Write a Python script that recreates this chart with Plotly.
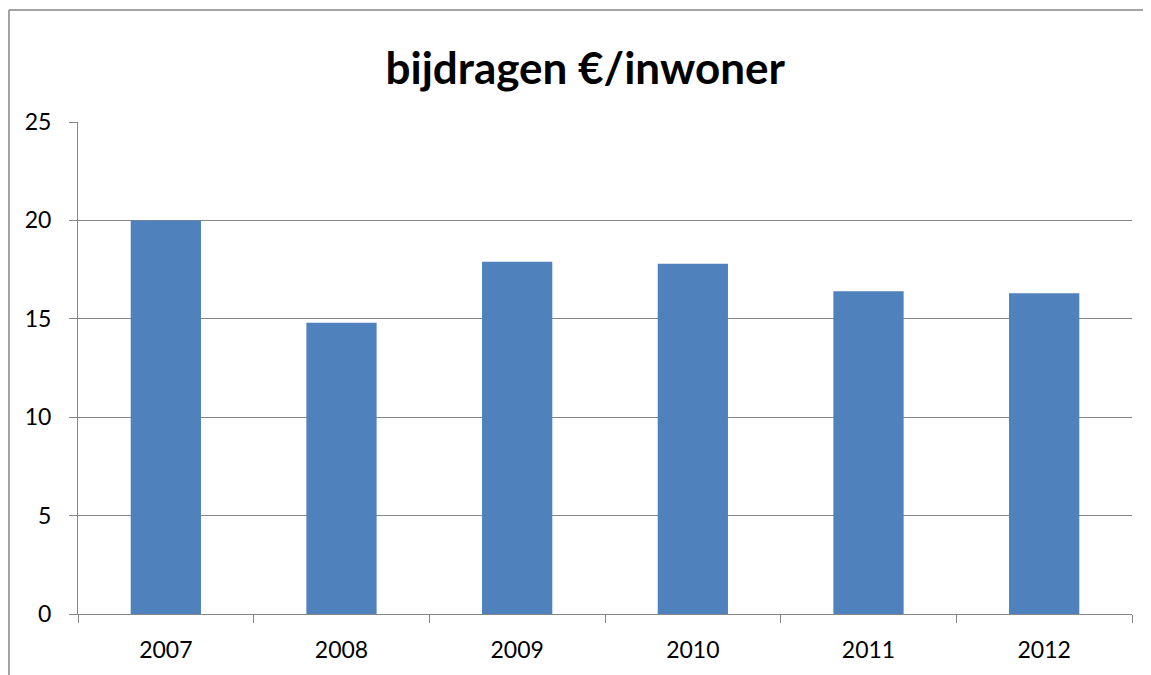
import plotly.graph_objects as go

years = ["2007", "2008", "2009", "2010", "2011", "2012"]
bijdragen = [20.0, 14.8, 17.9, 17.8, 16.4, 16.3]

bar_color = "#4F81BD"
axis_gray = "#868686"
font_family = "Lato, 'Open Sans', sans-serif"

fig = go.Figure(go.Bar(
    x=years,
    y=bijdragen,
    marker_color=bar_color,
    marker_line_width=0,
    width=0.4,
))

# the page body adds an 8px margin, so the figure is shifted by 8px
fig.update_layout(
    width=1143,
    height=667,
    title=dict(
        text="<b>bijdragen €/inwoner</b>",
        x=0.505, xanchor="center",
        y=0.9085, yanchor="middle",
        font=dict(size=44, color="black", family=font_family),
    ),
    plot_bgcolor="white",
    paper_bgcolor="white",
    font=dict(family=font_family, size=23, color="black"),
    margin=dict(l=70, r=19, t=114, b=61),
    showlegend=False,
    bargap=0.6,
)

fig.update_yaxes(
    range=[0, 25],
    dtick=5,
    showgrid=True,
    gridcolor=axis_gray,
    gridwidth=1,
    showline=True,
    linecolor=axis_gray,
    linewidth=1,
    ticks="outside",
    ticklen=8,
    tickcolor=axis_gray,
    ticklabelstandoff=13,
    zeroline=False,
    automargin=False,
)

fig.update_xaxes(
    type="category",
    showline=True,
    linecolor=axis_gray,
    linewidth=1,
    ticks="outside",
    tickson="boundaries",
    ticklen=8,
    tickcolor=axis_gray,
    ticklabelstandoff=15,
    showgrid=False,
    automargin=False,
)

# outer chart border (only left and top edges are visible in the original)
fig.add_shape(
    type="line", xref="paper", yref="paper",
    x0=-0.0655, x1=-0.0655, y0=-0.3, y1=1.2276,
    line=dict(color=axis_gray, width=1.5),
    layer="below",
)
fig.add_shape(
    type="line", xref="paper", yref="paper",
    x0=-0.0655, x1=1.2, y0=1.2276, y1=1.2276,
    line=dict(color=axis_gray, width=1.5),
    layer="below",
)

fig.write_html("out.html")
